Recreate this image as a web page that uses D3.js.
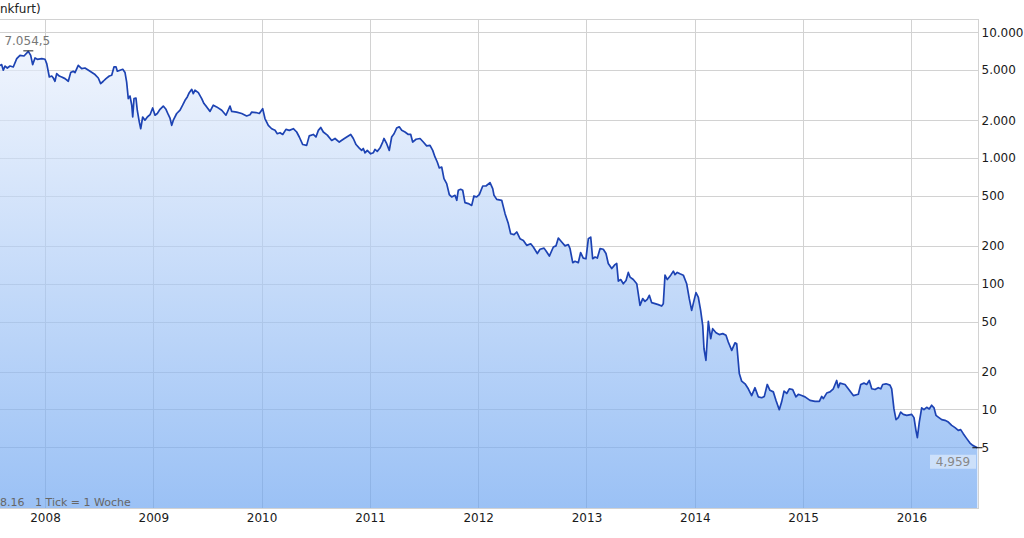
<!DOCTYPE html>
<html><head><meta charset="utf-8">
<script src="https://cdn.jsdelivr.net/npm/d3@7"></script>
<style>
html,body{margin:0;padding:0;background:#fff;}
svg{display:block;font-family:"DejaVu Sans",Verdana,sans-serif;}
</style></head>
<body>
<svg id="chart" width="1024" height="538"></svg>
<script>
// decimal-year positions of the weekly ticks
const dates = [2007.584,2007.600,2007.615,2007.631,2007.652,2007.677,2007.707,2007.739,2007.769,2007.806,2007.846,2007.868,2007.886,2007.908,2007.929,2007.970,2008.000,2008.016,2008.040,2008.062,2008.077,2008.092,2008.108,2008.132,2008.154,2008.185,2008.215,2008.237,2008.261,2008.277,2008.307,2008.339,2008.369,2008.416,2008.462,2008.492,2008.514,2008.538,2008.563,2008.594,2008.616,2008.637,2008.656,2008.668,2008.693,2008.718,2008.739,2008.754,2008.769,2008.785,2008.801,2008.810,2008.822,2008.840,2008.852,2008.871,2008.884,2008.902,2008.923,2008.945,2008.970,2008.994,2009.016,2009.037,2009.062,2009.092,2009.117,2009.139,2009.154,2009.170,2009.185,2009.216,2009.247,2009.271,2009.293,2009.314,2009.332,2009.355,2009.369,2009.385,2009.416,2009.447,2009.468,2009.493,2009.524,2009.554,2009.585,2009.632,2009.671,2009.708,2009.724,2009.770,2009.816,2009.862,2009.893,2009.909,2009.948,2009.979,2010.010,2010.031,2010.062,2010.093,2010.124,2010.145,2010.170,2010.195,2010.225,2010.256,2010.293,2010.324,2010.348,2010.380,2010.416,2010.440,2010.477,2010.502,2010.524,2010.546,2010.570,2010.607,2010.647,2010.678,2010.717,2010.754,2010.786,2010.823,2010.847,2010.872,2010.902,2010.924,2010.939,2010.955,2010.976,2011.007,2011.031,2011.047,2011.068,2011.093,2011.118,2011.130,2011.155,2011.179,2011.201,2011.223,2011.247,2011.271,2011.294,2011.324,2011.355,2011.377,2011.395,2011.426,2011.463,2011.493,2011.524,2011.555,2011.580,2011.601,2011.622,2011.641,2011.663,2011.684,2011.709,2011.733,2011.755,2011.786,2011.802,2011.816,2011.838,2011.857,2011.878,2011.909,2011.940,2011.961,2011.986,2012.010,2012.042,2012.072,2012.109,2012.134,2012.146,2012.171,2012.217,2012.248,2012.278,2012.300,2012.331,2012.356,2012.386,2012.417,2012.448,2012.485,2012.509,2012.546,2012.571,2012.608,2012.633,2012.657,2012.694,2012.718,2012.740,2012.771,2012.802,2012.832,2012.848,2012.873,2012.894,2012.924,2012.946,2012.970,2012.995,2013.017,2013.039,2013.057,2013.079,2013.100,2013.125,2013.155,2013.180,2013.201,2013.233,2013.263,2013.279,2013.294,2013.316,2013.340,2013.365,2013.386,2013.402,2013.432,2013.464,2013.478,2013.494,2013.519,2013.540,2013.561,2013.580,2013.602,2013.633,2013.663,2013.694,2013.709,2013.725,2013.746,2013.778,2013.802,2013.817,2013.838,2013.863,2013.894,2013.925,2013.949,2013.971,2013.993,2014.011,2014.032,2014.054,2014.073,2014.085,2014.103,2014.125,2014.147,2014.165,2014.196,2014.226,2014.258,2014.288,2014.309,2014.341,2014.371,2014.387,2014.411,2014.433,2014.464,2014.494,2014.525,2014.556,2014.586,2014.618,2014.642,2014.669,2014.694,2014.725,2014.750,2014.780,2014.802,2014.824,2014.849,2014.873,2014.904,2014.934,2014.956,2014.987,2015.018,2015.064,2015.110,2015.150,2015.172,2015.187,2015.218,2015.248,2015.279,2015.310,2015.325,2015.341,2015.387,2015.417,2015.464,2015.510,2015.532,2015.562,2015.587,2015.611,2015.634,2015.664,2015.694,2015.717,2015.735,2015.766,2015.802,2015.818,2015.839,2015.858,2015.879,2015.901,2015.925,2015.957,2016.003,2016.024,2016.042,2016.055,2016.073,2016.095,2016.116,2016.141,2016.165,2016.187,2016.209,2016.227,2016.248,2016.280,2016.310,2016.341,2016.372,2016.403,2016.433,2016.455,2016.479,2016.511,2016.541,2016.566,2016.587,2016.609];
const prices = [5460,5530,4990,5390,5200,5390,5300,6180,6560,6480,7054.5,6560,5530,6250,6100,6180,6100,5640,4410,4490,4330,4080,4690,4490,4410,4280,4080,4780,4900,4780,5460,5140,5200,4900,4610,4330,3910,4080,4280,4490,4550,5300,5300,4900,4990,5080,4780,4020,2970,3110,2630,2120,2970,3000,2400,1930,1710,2120,2000,2120,2210,2500,2190,2260,2440,2590,2440,2210,2080,1820,2000,2260,2400,2630,2880,3060,3310,3520,3250,3460,3310,2970,2710,2550,2350,2630,2550,2400,2190,2590,2350,2320,2260,2160,2210,2320,2300,2260,2470,2060,1820,1710,1660,1560,1590,1540,1690,1660,1710,1610,1470,1280,1260,1500,1540,1470,1660,1750,1610,1520,1380,1430,1340,1410,1470,1540,1430,1280,1200,1150,1190,1100,1150,1080,1100,1170,1130,1200,1340,1430,1300,1150,1470,1560,1730,1770,1660,1610,1540,1540,1340,1410,1430,1340,1250,1260,1150,1020,930,833,848,686,626,512,490,505,461,554,564,554,442,434,420,499,490,512,599,599,637,571,505,469,461,361,301,250,246,258,228,221,202,208,196,174,188,192,179,166,196,200,231,215,200,205,190,147,151,147,177,160,158,228,235,158,163,160,190,188,174,145,132,142,145,105,108,100,106,123,113,108,100,83.4,67.3,76.1,72.4,75.2,80.9,70.7,69.4,68.2,66.5,69.4,117,108,117,126,118,123,120,117,100,76.1,61.4,73.8,85,78.4,61.4,46.7,30.4,24.6,50.2,36.6,43.9,40.8,39.4,40.1,38.9,34.4,29.5,33.9,33.3,19.3,16.8,16.0,14.6,12.9,14.9,12.6,12.4,12.7,15.8,14.2,13.8,11.8,9.96,11.5,14.0,13.4,14.6,14.4,12.6,13.2,12.9,12.6,11.8,11.6,11.6,12.7,12.2,13.5,13.8,14.6,17.0,14.9,16.2,15.8,14.6,12.9,13.2,15.8,16.2,15.8,17.0,14.6,14.4,14.9,14.6,15.8,16.0,15.6,14.6,10.1,8.30,8.61,9.54,9.14,8.98,9.14,8.61,6.82,5.97,7.94,10.3,9.96,10.4,10.1,10.8,10.3,8.98,8.70,8.30,8.19,7.94,7.47,7.17,6.82,6.91,6.42,5.86,5.40,5.18,5.08,4.959];
const yearTicks = [2008,2009,2010,2011,2012,2013,2014,2015,2016];
const yTicks = [5,10,20,50,100,200,500,1000,2000,5000,10000];
const titleText = "nkfurt)";
const dateText = "8.16";
const tickText = "1 Tick = 1 Woche";

(function () {
const pLeft = 0, pRight = 978.5, pTop = 19.5, pBottom = 508.5;
const svg = d3.select("#chart");
const de = d3.formatLocale({decimal: ",", thousands: ".", grouping: [3], currency: ["", "€"]});

const x = d3.scaleLinear().domain([2007.5845, 2016.615]).range([0, 978]);
const y = d3.scaleLog().domain([5, 10000]).range([447.3, 32.3]);

const data = dates.map((d, i) => ({t: d, v: prices[i]}));

const defs = svg.append("defs");
const grad = defs.append("linearGradient").attr("id", "fillGrad")
  .attr("gradientUnits", "userSpaceOnUse").attr("x1", 0).attr("x2", 0).attr("y1", pTop).attr("y2", pBottom);
grad.append("stop").attr("offset", "0%").attr("stop-color", "rgb(240,244,253)");
grad.append("stop").attr("offset", "100%").attr("stop-color", "rgb(101,160,240)");
defs.append("clipPath").attr("id", "plotClip").append("rect")
  .attr("x", pLeft).attr("y", pTop).attr("width", pRight - pLeft).attr("height", pBottom - pTop);

// grid
const grid = svg.append("g").attr("shape-rendering", "crispEdges").attr("stroke", "#d2d2d2").attr("stroke-width", 1);
grid.selectAll("line.h").data(yTicks).join("line").attr("class", "h")
  .attr("x1", pLeft).attr("x2", pRight)
  .attr("y1", d => Math.round(y(d)) + 0.5).attr("y2", d => Math.round(y(d)) + 0.5);
grid.selectAll("line.v").data(yearTicks).join("line").attr("class", "v")
  .attr("y1", pTop).attr("y2", pBottom)
  .attr("x1", d => Math.round(x(d)) + 0.5).attr("x2", d => Math.round(x(d)) + 0.5);

// area + line
const plot = svg.append("g").attr("clip-path", "url(#plotClip)");
plot.append("path").datum(data)
  .attr("fill", "url(#fillGrad)").attr("fill-opacity", 0.65)
  .attr("d", d3.area().x(d => x(d.t)).y0(pBottom).y1(d => y(d.v)));
plot.append("path").datum(data)
  .attr("fill", "none").attr("stroke", "#1d43b3").attr("stroke-width", 1.7)
  .attr("stroke-linejoin", "round")
  .attr("d", d3.line().x(d => x(d.t)).y(d => y(d.v)));

// frame
svg.append("g").attr("shape-rendering", "crispEdges").attr("stroke", "#d2d2d2").attr("fill", "none")
  .call(g => {
    g.append("line").attr("x1", pLeft).attr("x2", pRight).attr("y1", pTop).attr("y2", pTop);
    g.append("line").attr("x1", pLeft).attr("x2", pRight).attr("y1", pBottom).attr("y2", pBottom);
    g.append("line").attr("x1", pRight).attr("x2", pRight).attr("y1", pTop).attr("y2", pBottom);
  });

// axes (labels only)
const yAxis = d3.axisRight(y).tickValues(yTicks).tickSize(0).tickPadding(3)
  .tickFormat(d => de.format(",d")(d));
svg.append("g").attr("transform", `translate(${pRight},0)`).call(yAxis)
  .call(g => g.select(".domain").remove())
  .call(g => g.selectAll("text").attr("font-size", 12).attr("fill", "#1a1a1a")
    .attr("font-family", "DejaVu Sans"));

const xAxis = d3.axisBottom(x).tickValues(yearTicks).tickSize(0).tickPadding(5).tickFormat(d3.format("d"));
svg.append("g").attr("transform", `translate(0,${pBottom})`).call(xAxis)
  .call(g => g.select(".domain").remove())
  .call(g => g.selectAll("text").attr("font-size", 12).attr("fill", "#1a1a1a")
    .attr("font-family", "DejaVu Sans"));

// title fragment
svg.append("text").attr("x", 0).attr("y", 13).attr("font-size", 12).attr("fill", "#222").text(titleText);

// max marker
const maxD = data.reduce((a, b) => b.v > a.v ? b : a);
const mx = x(maxD.t), my = y(maxD.v);
svg.append("line").attr("x1", mx - 5).attr("x2", mx + 5).attr("y1", my - 0.5).attr("y2", my - 0.5)
  .attr("stroke", "#222").attr("stroke-width", 1);
svg.append("text").attr("x", mx - 1).attr("y", my - 6).attr("text-anchor", "middle")
  .attr("font-size", 12).attr("fill", "#777").text(de.format(",.1f")(maxD.v));

// last marker
const lastD = data[data.length - 1];
const lx = x(lastD.t), ly = y(lastD.v);
svg.append("line").attr("x1", lx - 5).attr("x2", pRight + 4).attr("y1", ly).attr("y2", ly)
  .attr("stroke", "#111").attr("stroke-width", 1);
svg.append("rect").attr("x", 930).attr("y", ly + 7).attr("width", 46).attr("height", 14)
  .attr("fill", "rgba(255,255,255,0.45)");
svg.append("text").attr("x", 953).attr("y", ly + 18.5).attr("text-anchor", "middle")
  .attr("font-size", 12).attr("fill", "#888").text(de.format(",.3f")(lastD.v));

// bottom-left info
svg.append("text").attr("x", 0).attr("y", 505.5)
  .attr("font-size", 11).attr("fill", "#666").text(dateText);
svg.append("text").attr("x", 35).attr("y", 505.5)
  .attr("font-size", 11).attr("fill", "#666").text(tickText);
})();
</script>
</body></html>
